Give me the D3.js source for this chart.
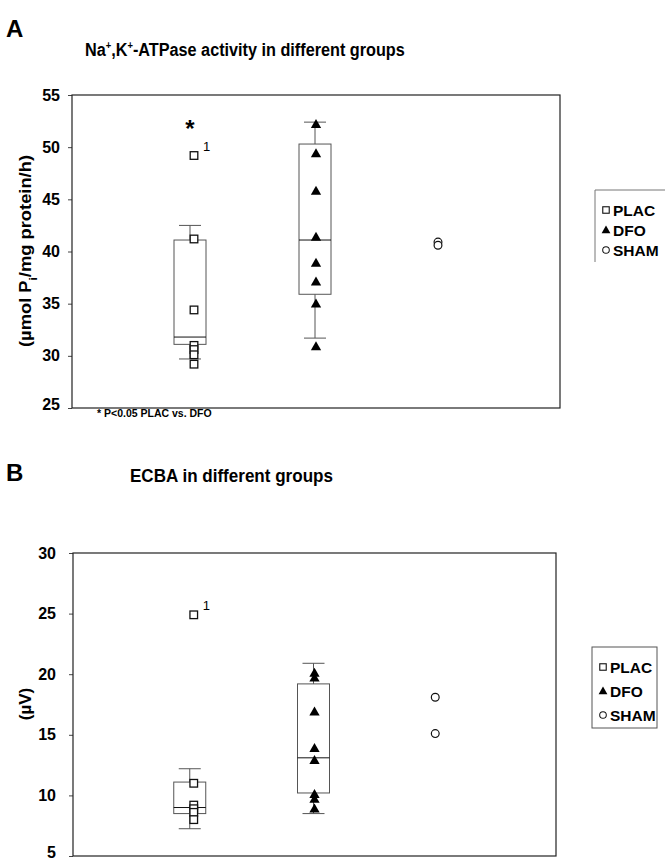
<!DOCTYPE html>
<html>
<head>
<meta charset="utf-8">
<script src="https://cdn.jsdelivr.net/npm/d3@7"></script>
<style>
  body { margin: 0; background: #fff; }
  svg { display: block; font-family: "Liberation Sans", Arial, sans-serif; }
</style>
</head>
<body>
<svg id="chart" width="665" height="861"></svg>
<script>
// groups on the x axis
const groups = ["PLAC", "DFO", "SHAM"];

// panel A: Na+,K+-ATPase activity
const atpTicks = [25, 30, 35, 40, 45, 50, 55];
const atpPlac = [49.2, 41.2, 34.4, 31.0, 30.6, 30.1, 29.2];
const atpDfo = [52.2, 49.4, 45.8, 41.4, 38.9, 37.1, 35.0, 30.9];
const atpSham = [40.9, 40.6];
const atpBoxes = [
  {group: "PLAC", lo: 29.7, q1: 31.1, median: 31.8, q3: 41.1, hi: 42.5},
  {group: "DFO", lo: 31.7, q1: 35.9, median: 41.1, q3: 50.3, hi: 52.4}
];
const atpOutlier = {group: "PLAC", value: 49.2, label: "1"};

// panel B: ECBA
const ecbaTicks = [5, 10, 15, 20, 25, 30];
const ecbaPlac = [24.9, 11.0, 9.2, 8.9, 8.6, 8.0];
const ecbaDfo = [20.1, 19.7, 16.9, 13.9, 12.9, 10.1, 9.7, 8.9];
const ecbaSham = [18.1, 15.1];
const ecbaBoxes = [
  {group: "PLAC", lo: 7.25, q1: 8.5, median: 9.0, q3: 11.1, hi: 12.2},
  {group: "DFO", lo: 8.5, q1: 10.2, median: 13.1, q3: 19.2, hi: 20.9}
];
const ecbaOutlier = {group: "PLAC", value: 24.9, label: "1"};

const svg = d3.select("#chart");

const triangle = d3.symbol().type(d3.symbolTriangle).size(46);
// boxes sit a little left of the points in the original plot
const boxShift = {PLAC: -4, DFO: -1};

const drawMarker = (sel, group) => {
  if (group === "PLAC") {
    sel.append("rect").attr("x", -3.8).attr("y", -3.8).attr("width", 7.6).attr("height", 7.6)
      .attr("fill", "#fff").attr("stroke", "#111").attr("stroke-width", 1.3);
  } else if (group === "DFO") {
    sel.append("path").attr("d", triangle).attr("transform", "translate(0,0.8)").attr("fill", "#000");
  } else {
    sel.append("circle").attr("r", 3.9)
      .attr("fill", "#fff").attr("stroke", "#111").attr("stroke-width", 1.2);
  }
};

// squeeze a text horizontally so it spans the given width
const fitWidth = (sel, x0, y0, w) => {
  const len = sel.node().getComputedTextLength();
  sel.attr("transform", "translate(" + x0 + "," + y0 + ") scale(" + (w / len) + ",1)");
};

const drawPanel = (cfg) => {
  const y = d3.scaleLinear().domain(cfg.domain).range([cfg.bottom, cfg.top]);
  const x = d3.scalePoint().domain(groups).range([cfg.left, cfg.right]).padding(1);
  const g = svg.append("g");

  // panel letter and title
  g.append("text").attr("x", 6).attr("y", cfg.letterY)
    .attr("font-size", 24).attr("font-weight", "bold").text(cfg.letter);
  const title = g.append("text").attr("font-size", 19).attr("font-weight", "bold");
  cfg.title.forEach(p => {
    const t = title.append("tspan").text(p.t);
    if (p.sup) t.attr("dy", -7).attr("font-size", 11);
    if (p.after) t.attr("dy", 7);
  });
  fitWidth(title, cfg.titleX, cfg.titleY, cfg.titleW);

  // y axis
  const yAxis = g.append("g")
    .attr("transform", "translate(" + cfg.left + ",0)")
    .call(d3.axisLeft(y).tickValues(cfg.ticks).tickSize(4).tickPadding(cfg.tickPad));
  yAxis.select(".domain").remove();
  yAxis.selectAll("text").attr("font-size", 16).attr("font-weight", "bold")
    .attr("font-family", "Liberation Sans, Arial, sans-serif").attr("fill", "#000")
    .attr("dy", d => d === cfg.domain[0] ? "0.1em" : "0.32em");
  yAxis.selectAll("line").attr("stroke", "#444");

  // y label
  const yl = g.append("text")
    .attr("transform", "translate(" + cfg.ylabelX + "," + cfg.ylabelY + ") rotate(-90)")
    .attr("text-anchor", "middle").attr("font-size", 17).attr("font-weight", "bold");
  if (cfg.ylabelW) yl.attr("textLength", cfg.ylabelW).attr("lengthAdjust", "spacingAndGlyphs");
  cfg.ylabel.forEach(p => {
    const t = yl.append("tspan").text(p.t);
    if (p.sub) t.attr("baseline-shift", "sub").attr("font-size", 11);
  });

  // plot frame
  g.append("rect").attr("x", cfg.left).attr("y", cfg.top)
    .attr("width", cfg.right - cfg.left).attr("height", cfg.bottom - cfg.top)
    .attr("fill", "none").attr("stroke", "#222").attr("stroke-width", 1.2);

  // boxes
  const bw = 32, cap = 11;
  cfg.boxes.forEach(b => {
    const cx = x(b.group) + boxShift[b.group];
    const bg = g.append("g").attr("stroke", "#555").attr("stroke-width", 1);
    bg.append("line").attr("x1", cx).attr("x2", cx).attr("y1", y(b.q3)).attr("y2", y(b.hi));
    bg.append("line").attr("x1", cx).attr("x2", cx).attr("y1", y(b.q1)).attr("y2", y(b.lo));
    bg.append("line").attr("x1", cx - cap).attr("x2", cx + cap).attr("y1", y(b.hi)).attr("y2", y(b.hi));
    bg.append("line").attr("x1", cx - cap).attr("x2", cx + cap).attr("y1", y(b.lo)).attr("y2", y(b.lo));
    bg.append("rect").attr("x", cx - bw / 2).attr("y", y(b.q3))
      .attr("width", bw).attr("height", y(b.q1) - y(b.q3)).attr("fill", "none");
    bg.append("line").attr("x1", cx - bw / 2).attr("x2", cx + bw / 2)
      .attr("y1", y(b.median)).attr("y2", y(b.median)).attr("stroke", "#111");
  });

  // points
  cfg.series.forEach(s => {
    s.values.forEach(v => {
      const m = g.append("g").attr("transform", "translate(" + x(s.group) + "," + y(v) + ")");
      drawMarker(m, s.group);
    });
  });

  // outlier label
  g.append("text").attr("x", x(cfg.outlier.group) + 9).attr("y", y(cfg.outlier.value) - 5)
    .attr("font-size", 13).text(cfg.outlier.label);

  // legend
  const lg = g.append("g").attr("transform", "translate(" + cfg.legendX + "," + cfg.legendY + ")");
  if (cfg.legendBox) {
    lg.append("rect").attr("x", 0).attr("y", 0).attr("width", 65).attr("height", 81)
      .attr("fill", "none").attr("stroke", "#555").attr("stroke-width", 1);
  } else {
    lg.append("line").attr("x1", 0).attr("x2", 0).attr("y1", 0).attr("y2", 72)
      .attr("stroke", "#777");
    lg.append("line").attr("x1", 0).attr("x2", 72).attr("y1", 0).attr("y2", 0)
      .attr("stroke", "#777");
  }
  groups.forEach((grp, i) => {
    const row = lg.append("g").attr("transform", "translate(11," + (cfg.legendRow0 + i * cfg.legendStep) + ")");
    const m = row.append("g").attr("transform", "scale(0.85)");
    drawMarker(m, grp);
    row.append("text").attr("x", 7).attr("y", 5.5).attr("font-size", 15.5)
      .attr("font-weight", "bold").text(grp);
  });

  return {x, y, g};
};

const a = drawPanel({
  letter: "A", letterY: 37,
  title: [{t: "Na"}, {t: "+", sup: true}, {t: ",K", after: true}, {t: "+", sup: true}, {t: "-ATPase activity in different groups", after: true}],
  titleX: 85, titleY: 56, titleW: 320,
  domain: [25, 55], ticks: atpTicks,
  top: 95, bottom: 408, left: 72, right: 560, tickPad: 8,
  ylabel: [{t: "(µmol P"}, {t: "i", sub: true}, {t: "/mg protein/h)"}],
  ylabelX: 31, ylabelY: 251, ylabelW: 192,
  boxes: atpBoxes,
  series: [{group: "PLAC", values: atpPlac}, {group: "DFO", values: atpDfo}, {group: "SHAM", values: atpSham}],
  outlier: atpOutlier,
  legendX: 595, legendY: 190, legendBox: false, legendRow0: 20, legendStep: 20
});

// significance marker and footnote for panel A
a.g.append("text").attr("x", a.x("PLAC") - 4).attr("y", a.y(51.0))
  .attr("text-anchor", "middle").attr("font-size", 24).attr("font-weight", "bold").text("*");
a.g.append("text").attr("x", 97).attr("y", 417)
  .attr("font-size", 10.5).attr("font-weight", "bold").text("* P<0.05 PLAC vs. DFO");

drawPanel({
  letter: "B", letterY: 481,
  title: [{t: "ECBA in different groups"}],
  titleX: 130, titleY: 482, titleW: 203,
  domain: [5, 30], ticks: ecbaTicks,
  top: 553, bottom: 856, left: 73, right: 556, tickPad: 13,
  ylabel: [{t: "(µV)"}],
  ylabelX: 31, ylabelY: 704,
  boxes: ecbaBoxes,
  series: [{group: "PLAC", values: ecbaPlac}, {group: "DFO", values: ecbaDfo}, {group: "SHAM", values: ecbaSham}],
  outlier: ecbaOutlier,
  legendX: 592, legendY: 647, legendBox: true, legendRow0: 20, legendStep: 24
});
</script>
</body>
</html>
